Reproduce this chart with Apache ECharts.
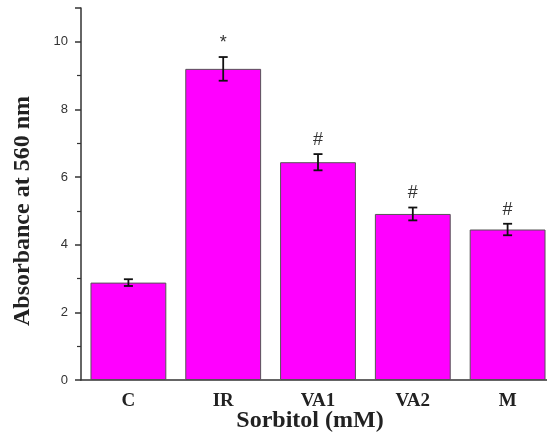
<!DOCTYPE html>
<html>
<head>
<meta charset="utf-8">
<script src="https://cdn.jsdelivr.net/npm/echarts@6/dist/echarts.min.js"></script>
<style>
  html, body { margin: 0; padding: 0; background: #fff; }
  #main { width: 547px; height: 434px; }
</style>
</head>
<body>
<div id="main"></div>
<script>
const groups = ["C", "IR", "VA1", "VA2", "M"];
const absorbance = [2.88, 9.2, 6.44, 4.91, 4.45];
const errors = [0.1, 0.35, 0.24, 0.19, 0.17];
const marks = ["", "*", "#", "#", "#"];

const chart = echarts.init(document.getElementById("main"));

const serif = "'Liberation Serif', 'DejaVu Serif', serif";

const option = {
  animation: false,
  grid: { left: 81, top: 8, width: 474, height: 372, containLabel: false, outerBoundsMode: "none" },
  xAxis: [
    {
      type: "category",
      data: groups,
      name: "Sorbitol (mM)",
      nameLocation: "middle",
      nameGap: 29,
      nameMoveOverlap: false,
      nameTextStyle: { fontFamily: serif, fontWeight: "bold", fontSize: 24, color: "#222", padding: [0, 16, 0, 0] },
      axisLine: { lineStyle: { color: "#333", width: 1.5 } },
      axisTick: { alignWithLabel: true, length: 6, lineStyle: { color: "#333", width: 1.5 } },
      axisLabel: { margin: 12, fontFamily: serif, fontWeight: "bold", fontSize: 19, color: "#222" },
    },
    {
      // small ticks between the groups
      type: "category",
      data: groups,
      position: "bottom",
      axisLine: { show: false },
      axisTick: { length: 4, lineStyle: { color: "#333", width: 1.2 } },
      axisLabel: { show: false },
    },
  ],
  yAxis: {
    type: "value",
    min: 0,
    max: 11,
    interval: 2,
    name: "Absorbance at 560 nm",
    nameLocation: "middle",
    nameGap: 46,
    nameMoveOverlap: false,
    nameTextStyle: { fontFamily: serif, fontWeight: "bold", fontSize: 24, color: "#222", padding: [0, 34, 0, 0] },
    splitLine: { show: false },
    axisLine: { show: true, lineStyle: { color: "#333", width: 1.5 } },
    axisTick: { show: true, length: 6, lineStyle: { color: "#333", width: 1.5 } },
    minorTick: { show: true, splitNumber: 2, length: 4, lineStyle: { color: "#333", width: 1.2 } },
    axisLabel: {
      margin: 13,
      fontFamily: "'Liberation Sans', Arial, sans-serif",
      fontSize: 13,
      color: "#333",
      formatter: (v) => (v % 2 === 0 && v <= 10 ? String(v) : ""),
    },
  },
  series: [
    {
      type: "bar",
      data: absorbance,
      barCategoryGap: "20%",
      itemStyle: { color: "#ff00ff", borderColor: "#555", borderWidth: 1 },
    },
    {
      type: "custom",
      data: groups.map((g, i) => [i, absorbance[i] - errors[i], absorbance[i] + errors[i]]),
      z: 10,
      renderItem: (params, api) => {
        const lo = api.coord([api.value(0), api.value(1)]);
        const hi = api.coord([api.value(0), api.value(2)]);
        const cap = 4.5;
        const style = { stroke: "#111", lineWidth: 1.8, fill: null };
        const children = [
          { type: "line", shape: { x1: hi[0], y1: hi[1], x2: lo[0], y2: lo[1] }, style },
          { type: "line", shape: { x1: hi[0] - cap, y1: hi[1], x2: hi[0] + cap, y2: hi[1] }, style },
          { type: "line", shape: { x1: lo[0] - cap, y1: lo[1], x2: lo[0] + cap, y2: lo[1] }, style },
        ];
        const m = marks[params.dataIndex];
        if (m) {
          children.push({
            type: "text",
            style: {
              text: m,
              x: hi[0],
              y: hi[1] - 5,
              align: "center",
              verticalAlign: "bottom",
              fontFamily: "'Liberation Sans', Arial, sans-serif",
              fontSize: 18,
              fill: "#333",
            },
          });
        }
        return { type: "group", children };
      },
    },
  ],
};

chart.setOption(option);
</script>
</body>
</html>
